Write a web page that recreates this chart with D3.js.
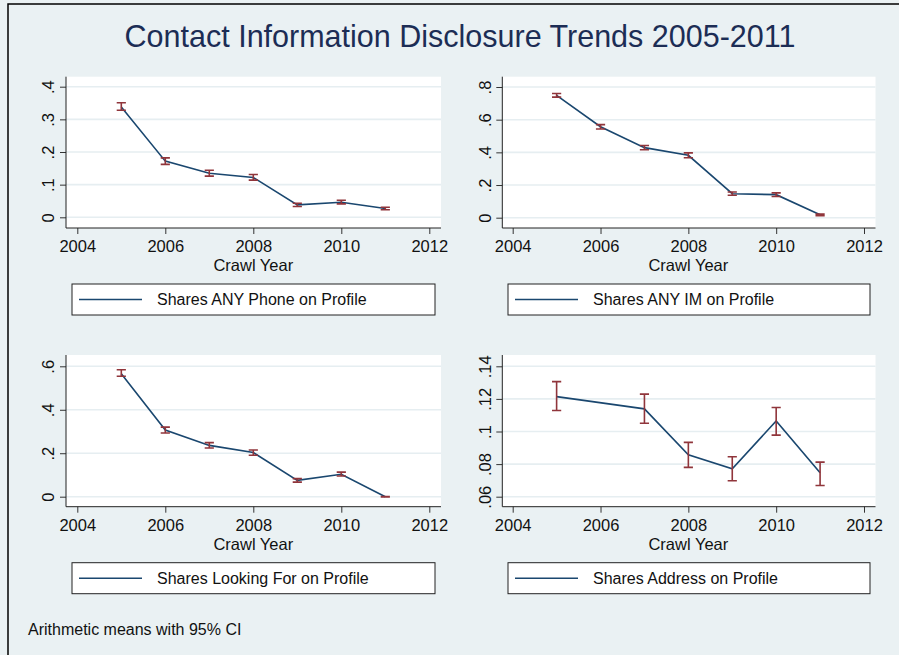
<!DOCTYPE html>
<html>
<head>
<meta charset="utf-8">
<script src="https://cdn.jsdelivr.net/npm/d3@7/dist/d3.min.js"></script>
<style>
  html, body { margin: 0; padding: 0; background: #eaf1f3; }
  svg { display: block; }
  text { font-family: "Liberation Sans", Arial, Helvetica, sans-serif; }
</style>
</head>
<body>
<svg id="chart" width="899" height="655"></svg>
<script>
// ---------------- data ----------------
const chartTitle = "Contact Information Disclosure Trends 2005-2011";
const footnote = "Arithmetic means with 95% CI";
const xAxisTitle = "Crawl Year";
const xTicks = [2004, 2006, 2008, 2010, 2012];

const years = [2005, 2006, 2007, 2008, 2009, 2010, 2011];

const phoneMean = [0.338, 0.172, 0.135, 0.122, 0.038, 0.046, 0.027];
const phoneLo   = [0.328, 0.162, 0.126, 0.114, 0.033, 0.041, 0.023];
const phoneHi   = [0.351, 0.182, 0.144, 0.131, 0.043, 0.052, 0.031];
const phoneTicks = [0, 0.1, 0.2, 0.3, 0.4];
const phoneTickLabels = ["0", ".1", ".2", ".3", ".4"];

const imMean = [0.749, 0.557, 0.429, 0.382, 0.147, 0.141, 0.018];
const imLo   = [0.738, 0.543, 0.416, 0.367, 0.137, 0.130, 0.013];
const imHi   = [0.760, 0.570, 0.442, 0.397, 0.157, 0.152, 0.023];
const imTicks = [0, 0.2, 0.4, 0.6, 0.8];
const imTickLabels = ["0", ".2", ".4", ".6", ".8"];

const lookMean = [0.566, 0.307, 0.236, 0.203, 0.075, 0.103, 0.000];
const lookLo   = [0.554, 0.293, 0.224, 0.191, 0.067, 0.095, -0.001];
const lookHi   = [0.584, 0.320, 0.249, 0.215, 0.083, 0.113, 0.001];
const lookTicks = [0, 0.2, 0.4, 0.6];
const lookTickLabels = ["0", ".2", ".4", ".6"];

const addrYears = [2005, 2007, 2008, 2009, 2010, 2011];
const addrMean = [0.1214, 0.1139, 0.0857, 0.0771, 0.1065, 0.0747];
const addrLo   = [0.1129, 0.1051, 0.0780, 0.0698, 0.0978, 0.0669];
const addrHi   = [0.1306, 0.1229, 0.0933, 0.0845, 0.1147, 0.0812];
const addrTicks = [0.06, 0.08, 0.10, 0.12, 0.14];
const addrTickLabels = [".06", ".08", ".1", ".12", ".14"];

const legendLabels = [
  "Shares ANY Phone on Profile",
  "Shares ANY IM on Profile",
  "Shares Looking For on Profile",
  "Shares Address on Profile"
];

// ---------------- styles / layout ----------------
const bg = "#eaf1f3";
const gridColor = "#e6eef1";
const lineColor = "#1a476f";
const ciColor = "#90353b";
const titleColor = "#1c2d55";

const svg = d3.select("#chart");
svg.append("rect").attr("x", 0).attr("y", 0).attr("width", 899).attr("height", 655).attr("fill", bg);
// outer frame (left & top visible)
svg.append("path").attr("d", "M8,655 L8,4 L899,4").attr("fill", "none").attr("stroke", "#000").attr("stroke-width", 1.5);

svg.append("text").attr("x", 460).attr("y", 47.3).attr("text-anchor", "middle")
  .attr("font-size", 30.5).attr("fill", titleColor).text(chartTitle);

svg.append("text").attr("x", 28).attr("y", 635).attr("font-size", 16).attr("fill", "#111").text(footnote);

const panels = [
  { xs: years, m: phoneMean, lo: phoneLo, hi: phoneHi, ticks: phoneTicks, tl: phoneTickLabels,
    px0: 66, px1: 441, py0: 76.7, py1: 228, xr: [77.3, 429.3], yr: [217.3, 86.7], legX: 72, legW: 363, lab: legendLabels[0] },
  { xs: years, m: imMean, lo: imLo, hi: imHi, ticks: imTicks, tl: imTickLabels,
    px0: 502.3, px1: 875.5, py0: 76.7, py1: 228, xr: [512.7, 864], yr: [217.7, 87], legX: 508, legW: 362, lab: legendLabels[1] },
  { xs: years, m: lookMean, lo: lookLo, hi: lookHi, ticks: lookTicks, tl: lookTickLabels,
    px0: 66, px1: 441, py0: 355, py1: 506.7, xr: [77.3, 429.3], yr: [496.7, 366.3], legX: 72, legW: 363, lab: legendLabels[2] },
  { xs: addrYears, m: addrMean, lo: addrLo, hi: addrHi, ticks: addrTicks, tl: addrTickLabels,
    px0: 502.3, px1: 875.5, py0: 355, py1: 506.7, xr: [512.7, 864], yr: [496.7, 366.3], legX: 508, legW: 362, lab: legendLabels[3] }
];

panels.forEach(p => {
  const g = svg.append("g");
  const x = d3.scaleLinear().domain([xTicks[0], xTicks[xTicks.length - 1]]).range(p.xr);
  const y = d3.scaleLinear().domain([p.ticks[0], p.ticks[p.ticks.length - 1]]).range(p.yr);

  // plot region
  g.append("rect").attr("x", p.px0).attr("y", p.py0).attr("width", p.px1 - p.px0).attr("height", p.py1 - p.py0)
    .attr("fill", "#ffffff");

  // grid
  g.selectAll("line.grid").data(p.ticks).enter().append("line")
    .attr("x1", p.px0).attr("x2", p.px1)
    .attr("y1", d => y(d)).attr("y2", d => y(d))
    .attr("stroke", gridColor).attr("stroke-width", 1.6);

  // y axis
  const yAxis = d3.axisLeft(y).tickValues(p.ticks).tickSize(6).tickPadding(4)
    .tickFormat((d, i) => p.tl[i]);
  const ya = g.append("g").attr("transform", `translate(${p.px0},0)`).call(yAxis);
  ya.select(".domain").remove();
  ya.selectAll(".tick line").attr("stroke", "#333");
  ya.selectAll(".tick text").attr("font-size", 16.5).attr("fill", "#111")
    .attr("text-anchor", "middle").attr("dy", null).attr("x", null)
    .attr("transform", `translate(${-16},0) rotate(-90)`).attr("dominant-baseline", "middle");
  g.append("line").attr("x1", p.px0).attr("x2", p.px0).attr("y1", p.py0).attr("y2", p.py1)
    .attr("stroke", "#222").attr("stroke-width", 1);

  // x axis
  const xAxis = d3.axisBottom(x).tickValues(xTicks).tickSize(6).tickPadding(6).tickFormat(d3.format("d"));
  const xa = g.append("g").attr("transform", `translate(0,${p.py1})`).call(xAxis);
  xa.select(".domain").remove();
  xa.selectAll(".tick line").attr("stroke", "#333");
  xa.selectAll(".tick text").attr("font-size", 16.5).attr("fill", "#111").attr("dy", null).attr("y", 24.3);
  g.append("line").attr("x1", p.px0).attr("x2", p.px1).attr("y1", p.py1).attr("y2", p.py1)
    .attr("stroke", "#222").attr("stroke-width", 1);

  g.append("text").attr("x", (p.xr[0] + p.xr[1]) / 2).attr("y", p.py1 + 43)
    .attr("text-anchor", "middle").attr("font-size", 16.5).attr("fill", "#111").text(xAxisTitle);

  // data line
  const pts = p.xs.map((d, i) => [d, p.m[i]]);
  g.append("path").datum(pts)
    .attr("d", d3.line().x(d => x(d[0])).y(d => y(d[1])))
    .attr("fill", "none").attr("stroke", lineColor).attr("stroke-width", 1.6);

  // CI bars
  const cap = 4.6;
  p.xs.forEach((d, i) => {
    const cx = x(d), ylo = y(p.lo[i]), yhi = y(p.hi[i]);
    g.append("path")
      .attr("d", `M${cx - cap},${yhi}H${cx + cap}M${cx},${yhi}V${ylo}M${cx - cap},${ylo}H${cx + cap}`)
      .attr("fill", "none").attr("stroke", ciColor).attr("stroke-width", 1.6);
  });

  // legend
  const ly = p.py1 + 56;
  g.append("rect").attr("x", p.legX).attr("y", ly).attr("width", p.legW).attr("height", 31)
    .attr("fill", "#fff").attr("stroke", "#222").attr("stroke-width", 1);
  g.append("line").attr("x1", p.legX + 7).attr("x2", p.legX + 70).attr("y1", ly + 15.5).attr("y2", ly + 15.5)
    .attr("stroke", lineColor).attr("stroke-width", 1.6);
  g.append("text").attr("x", p.legX + 85).attr("y", ly + 21).attr("font-size", 16).attr("fill", "#111").text(p.lab);
});
</script>
</body>
</html>
